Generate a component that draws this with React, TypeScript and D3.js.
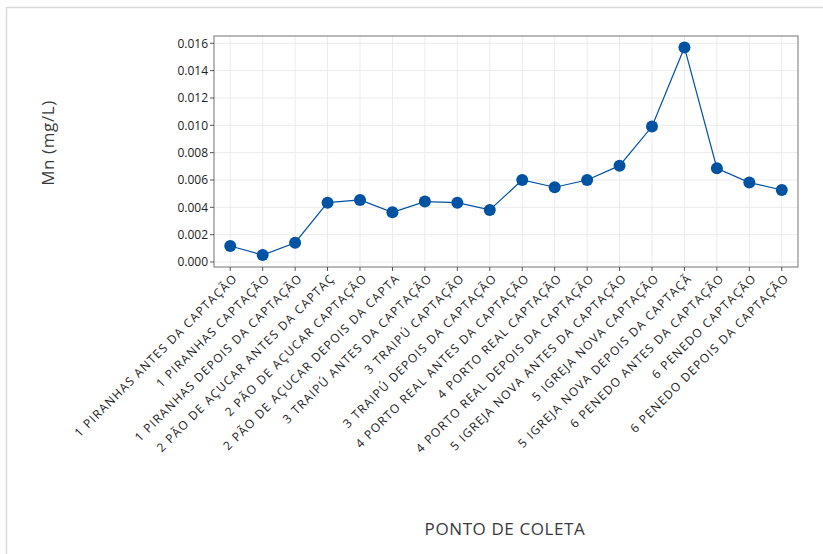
import React from "react";
import * as d3 from "d3";

const categories: string[] = [
  "1 PIRANHAS ANTES DA CAPTAÇÃO",
  "1 PIRANHAS CAPTAÇÃO",
  "1 PIRANHAS DEPOIS DA CAPTAÇÃO",
  "2 PÃO DE AÇUCAR ANTES DA CAPTAÇ",
  "2 PÃO DE AÇUCAR CAPTAÇÃO",
  "2 PÃO DE AÇUCAR DEPOIS DA CAPTA",
  "3 TRAIPÚ ANTES DA CAPTAÇÃO",
  "3 TRAIPÚ CAPTAÇÃO",
  "3 TRAIPÚ DEPOIS DA CAPTAÇÃO",
  "4 PORTO REAL ANTES DA CAPTAÇÃO",
  "4 PORTO REAL CAPTAÇÃO",
  "4 PORTO REAL DEPOIS DA CAPTAÇÃO",
  "5 IGREJA NOVA ANTES DA CAPTAÇÃO",
  "5 IGREJA NOVA CAPTAÇÃO",
  "5 IGREJA NOVA DEPOIS DA CAPTAÇÃ",
  "6 PENEDO ANTES DA CAPTAÇÃO",
  "6 PENEDO CAPTAÇÃO",
  "6 PENEDO DEPOIS DA CAPTAÇÃO",
];

const mnValues: number[] = [
  0.00117, 0.00051, 0.00141, 0.00434, 0.00454, 0.00364, 0.00442, 0.00434, 0.00381,
  0.006, 0.00547, 0.006, 0.00705, 0.00991, 0.0157, 0.00686, 0.00581, 0.00527,
];

const yTicks: number[] = [0, 0.002, 0.004, 0.006, 0.008, 0.01, 0.012, 0.014, 0.016];

const yTitle = "Mn (mg/L)";
const xTitle = "PONTO DE COLETA";

export default function App() {
  const W = 823;
  const H = 554;
  const left = 214;
  const right = 798;
  const top = 36;
  const bottom = 267;
  const font = "'Open Sans', 'Noto Sans', sans-serif";

  const x = d3.scaleBand<string>().domain(categories).range([left, right]).paddingInner(0).paddingOuter(0);
  const cx = (c: string) => (x(c) as number) + x.bandwidth() / 2;
  const y = d3.scaleLinear().domain([0, 0.016]).range([262, 43.3]);

  const line = d3
    .line<number>()
    .x((_, i) => cx(categories[i]))
    .y((d) => y(d));

  const blue = "#0052a3";

  return (
    <div style={{ position: "absolute", left: 0, top: 0 }}>
      <svg width={W} height={H} style={{ display: "block", background: "#fff" }}>
        <rect x={6.5} y={7.5} width={W} height={H} fill="#fff" stroke="#d9d9d9" strokeWidth={1.5} />
        {/* grid */}
        {yTicks.map((t) => (
          <line key={"gy" + t} x1={left} x2={right} y1={y(t)} y2={y(t)} stroke="#ececec" strokeWidth={1} />
        ))}
        {categories.map((c) => (
          <line key={"gx" + c} x1={cx(c)} x2={cx(c)} y1={top} y2={bottom} stroke="#ececec" strokeWidth={1} />
        ))}
        <rect x={left} y={top} width={right - left} height={bottom - top} fill="none" stroke="#8a8a8a" strokeWidth={1.2} />
        {/* y ticks */}
        {yTicks.map((t) => (
          <g key={"yt" + t}>
            <line x1={left - 4} x2={left} y1={y(t)} y2={y(t)} stroke="#555" strokeWidth={1} />
            <text x={left - 6} y={y(t)} dy="0.35em" textAnchor="end" fontFamily={font} fontSize={12} fill="#222">
              {d3.format(".3f")(t)}
            </text>
          </g>
        ))}
        {/* x ticks and labels */}
        {categories.map((c) => (
          <g key={"xt" + c}>
            <line x1={cx(c)} x2={cx(c)} y1={bottom} y2={bottom + 4} stroke="#555" strokeWidth={1} />
            <text
              transform={`translate(${cx(c) + 5},${bottom + 9}) rotate(-45)`}
              textAnchor="end"
              dy="0.35em"
              fontFamily={font}
              fontSize={12}
              letterSpacing={1.2}
              fill="#1a1a1a"
            >
              {c}
            </text>
          </g>
        ))}
        {/* line and markers */}
        <path d={line(mnValues) || ""} fill="none" stroke={blue} strokeWidth={1.2} />
        {mnValues.map((v, i) => (
          <circle key={"p" + i} cx={cx(categories[i])} cy={y(v)} r={6} fill={blue} />
        ))}
        {/* titles */}
        <text
          transform={`translate(48,143) rotate(-90)`}
          textAnchor="middle"
          dy="0.35em"
          fontFamily={font}
          fontSize={17}
          letterSpacing={0.6}
          fill="#3a3a3a"
        >
          {yTitle}
        </text>
        <text x={505} y={529} textAnchor="middle" dy="0.35em" fontFamily={font} fontSize={17} letterSpacing={0.6} fill="#3a3a3a">
          {xTitle}
        </text>
      </svg>
    </div>
  );
}
